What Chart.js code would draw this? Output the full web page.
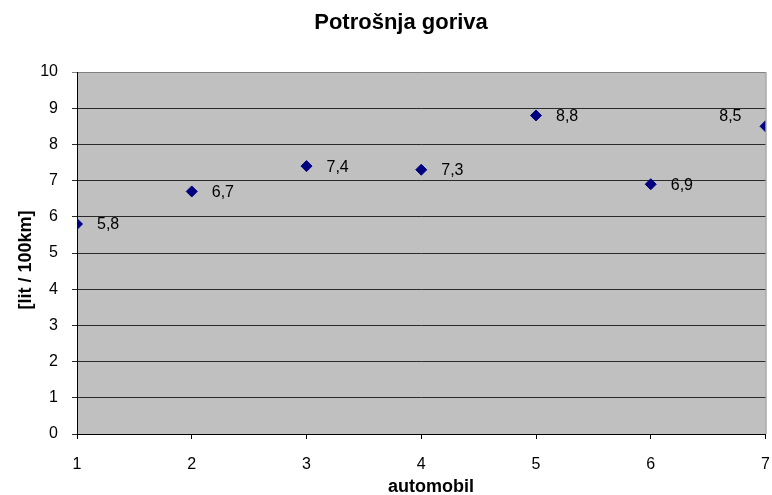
<!DOCTYPE html>
<html>
<head>
<meta charset="utf-8">
<title>Potrošnja goriva</title>
<script src="https://cdn.jsdelivr.net/npm/chart.js@4"></script>
<style>
  html, body { margin: 0; padding: 0; background: #fff; }
  #wrap { width: 772px; height: 495px; }
</style>
</head>
<body>
<div id="wrap"><canvas id="chart" width="772" height="495"></canvas></div>
<script>
// data
const automobil = [1, 2, 3, 4, 5, 6, 7];
const potrosnja = [5.8, 6.7, 7.4, 7.3, 8.8, 6.9, 8.5];
const titleText = 'Potrošnja goriva';
const xTitle = 'automobil';
const yTitle = '[lit / 100km]';

const FONT = '"Liberation Sans", Arial, sans-serif';

const points = automobil.map((x, i) => ({ x: x, y: potrosnja[i] }));

// grey plot area, right border, value labels and titles
const decor = {
    id: 'decor',
    beforeDraw(chart) {
        const { ctx, chartArea: a } = chart;
        ctx.save();
        ctx.fillStyle = '#c0c0c0';
        ctx.fillRect(a.left, a.top, a.right - a.left, a.bottom - a.top);
        ctx.restore();
    },
    afterDatasetsDraw(chart) {
        const { ctx, chartArea: a } = chart;
        ctx.save();
        ctx.strokeStyle = '#808080';
        ctx.lineWidth = 1;
        ctx.beginPath();
        ctx.moveTo(a.right + 0.5, a.top);
        ctx.lineTo(a.right + 0.5, a.bottom);
        ctx.stroke();

        // value labels, decimal comma
        ctx.font = '16px ' + FONT;
        ctx.fillStyle = '#000';
        ctx.textBaseline = 'middle';
        const meta = chart.getDatasetMeta(0);
        meta.data.forEach((pt, i) => {
            const txt = String(potrosnja[i]).replace('.', ',');
            if (pt.x > a.right - 40) {
                ctx.textAlign = 'right';
                ctx.fillText(txt, pt.x - 24, pt.y - 10);
            } else {
                ctx.textAlign = 'left';
                ctx.fillText(txt, pt.x + 20, pt.y + 1);
            }
        });
        ctx.restore();
    },
    afterDraw(chart) {
        const { ctx } = chart;
        ctx.save();
        ctx.fillStyle = '#000';
        ctx.textAlign = 'center';
        ctx.textBaseline = 'middle';
        ctx.font = 'bold 22px ' + FONT;
        ctx.fillText(titleText, 401, 23);
        ctx.font = 'bold 18px ' + FONT;
        ctx.fillText(xTitle, 431, 487);
        ctx.translate(26, 260);
        ctx.rotate(-Math.PI / 2);
        ctx.font = 'bold 18px ' + FONT;
        ctx.fillText(yTitle, 0, 0);
        ctx.restore();
    }
};

new Chart(document.getElementById('chart'), {
    type: 'scatter',
    data: {
        datasets: [{
            data: points,
            pointStyle: 'rectRot',
            pointRadius: 5.5,
            pointHoverRadius: 5.5,
            backgroundColor: '#000080',
            borderColor: '#000080',
            borderWidth: 1
        }]
    },
    options: {
        responsive: false,
        animation: false,
        layout: { padding: { top: 72, right: 4, bottom: 0, left: 0 } },
        plugins: {
            legend: { display: false },
            title: { display: false },
            tooltip: { enabled: false }
        },
        scales: {
            x: {
                type: 'linear',
                min: 1,
                max: 7,
                afterFit: s => { s.height = 61; s.paddingLeft = 0; s.paddingRight = 0; },
                ticks: {
                    stepSize: 1,
                    padding: 16,
                    color: '#000',
                    font: { family: FONT, size: 16 }
                },
                grid: {
                    drawOnChartArea: false,
                    drawTicks: true,
                    tickLength: 5,
                    color: '#000'
                },
                border: { color: '#000', width: 1 }
            },
            y: {
                min: 0,
                max: 10,
                afterFit: s => { s.width = 77; s.paddingTop = 0; s.paddingBottom = 0; },
                ticks: {
                    stepSize: 1,
                    padding: 14,
                    color: '#000',
                    font: { family: FONT, size: 16 }
                },
                grid: {
                    tickLength: 5,
                    color: ctx => (ctx.tick && ctx.tick.value === 10) ? '#808080' : '#2a2a2a'
                },
                border: { color: '#000', width: 1 }
            }
        }
    },
    plugins: [decor]
});
</script>
</body>
</html>
